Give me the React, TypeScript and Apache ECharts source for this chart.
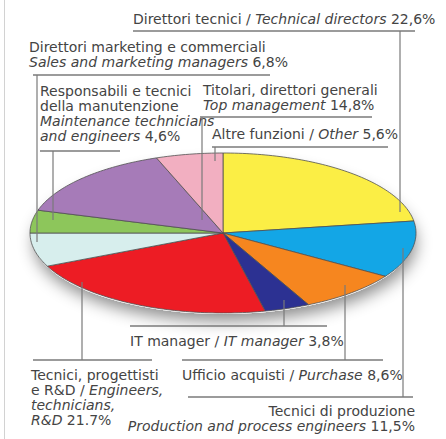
import React, { useEffect, useRef } from 'react';
import * as echarts from 'echarts';

const categories = [
  'Direttori tecnici / Technical directors',
  'Tecnici di produzione / Production and process engineers',
  'Ufficio acquisti / Purchase',
  'IT manager / IT manager',
  'Tecnici, progettisti e R&D / Engineers, technicians, R&D',
  'Direttori marketing e commerciali / Sales and marketing managers',
  'Responsabili e tecnici della manutenzione / Maintenance technicians and engineers',
  'Titolari, direttori generali / Top management',
  'Altre funzioni / Other',
];
const shares = [22.6, 11.5, 8.6, 3.8, 21.7, 6.8, 4.6, 14.8, 5.6];
const decimalMarks = [',', ',', ',', ',', '.', ',', ',', ',', ','];
const sliceColors = ['#fbee45', '#13a6e6', '#f6861f', '#2c3192', '#ed1c24', '#d7eeed', '#8dc65b', '#a67bb8', '#f2afc1'];
// label templates: {n|...} = Italian (upright), {i|...} = English (italic), %v = share
const labelTexts = [
  '{n|Direttori tecnici / }{i|Technical directors}{n| %v}',
  '{n|Tecnici di produzione}\n{i|Production and process engineers}{n| %v}',
  '{n|Ufficio acquisti / }{i|Purchase}{n| %v}',
  '{n|IT manager / }{i|IT manager}{n| %v}',
  '{n|Tecnici, progettisti}\n{n|e R&D / }{i|Engineers,}\n{i|technicians,}\n{i|R&D}{n| %v}',
  '{n|Direttori marketing e commerciali}\n{i|Sales and marketing managers}{n| %v}',
  '{n|Responsabili e tecnici}\n{n|della manutenzione}\n{i|Maintenance technicians}\n{i|and engineers}{n| %v}',
  '{n|Titolari, direttori generali}\n{i|Top management}{n| %v}',
  '{n|Altre funzioni / }{i|Other}{n| %v}',
];

const CX = 223, CY = 233, RX = 193, RY = 80;
const FONT = '"DejaVu Sans", sans-serif';
const FS = 14;
const LH = 15;
const TXT = '#444444';
const LINE = '#7a7a7a';

// layout of each label: first line centre, underline and leader line
const labelLayout = [
  { x: 133, y: 19, align: 'left', under: [[133, 31], [415, 31]], leader: [[400, 31], [400, 212]] },
  { x: 415, y: 411, align: 'right', under: [[188, 397], [413, 397]], leader: [[403, 248], [403, 397]] },
  { x: 182, y: 375, align: 'left', under: [[182, 360], [383, 360]], leader: [[345, 285], [345, 360]] },
  { x: 130, y: 341, align: 'left', under: [[130, 326], [327, 326]], leader: [[284, 300], [284, 326]] },
  { x: 31, y: 375, align: 'left', under: [[33, 360], [152, 360]], leader: [[82, 282], [82, 360]] },
  { x: 29, y: 47, align: 'left', under: [[33, 75], [270, 75]], leader: [[37, 75], [37, 242]] },
  { x: 40, y: 91, align: 'left', under: [[40, 151], [120, 151]], leader: [[53, 151], [53, 220]] },
  { x: 203, y: 90, align: 'left', under: [[200, 117], [372, 117]], leader: [[202, 117], [202, 220]] },
  { x: 212, y: 134, align: 'left', under: [[212, 147], [388, 147]], leader: [[215, 147], [215, 161]] },
];

export default function App() {
  const ref = useRef<HTMLDivElement>(null);
  useEffect(() => {
    if (!ref.current) return;
    const chart = echarts.init(ref.current, null, { renderer: 'svg' });
    const total = shares.reduce((a, b) => a + b, 0);
    const rich = {
      n: { fontFamily: FONT, fontSize: FS, fill: TXT },
      i: { fontFamily: FONT, fontSize: FS, fill: TXT, fontStyle: 'italic' },
    } as any;
    const graphics: any[] = [
      { type: 'line', shape: { x1: 4.5, y1: 0, x2: 4.5, y2: 439 }, style: { stroke: '#d2d2d2', lineWidth: 1 }, z: 1 },
      {
        type: 'ellipse', shape: { cx: CX, cy: CY + 3, rx: RX - 2, ry: RY - 2 },
        style: { fill: '#ffffff', shadowBlur: 16, shadowColor: 'rgba(0,0,0,0.45)', shadowOffsetY: 7, shadowOffsetX: 2 }, z: 0,
      },
    ];
    labelLayout.forEach((l, i) => {
      const val = shares[i].toFixed(1).replace('.', decimalMarks[i]) + '%';
      const lines = labelTexts[i].replace('%v', val).split('\n');
      lines.forEach((line, k) => {
        graphics.push({
          type: 'text', x: l.x, y: l.y + k * LH, z: 10,
          style: {
            text: line, rich,
            fontFamily: FONT, fontSize: FS, fill: TXT,
            align: l.align, verticalAlign: 'middle',
          },
        });
      });
      graphics.push({ type: 'polyline', z: 10, shape: { points: l.under }, style: { stroke: LINE, lineWidth: 1.4, fill: null } });
      graphics.push({ type: 'polyline', z: 10, shape: { points: l.leader }, style: { stroke: LINE, lineWidth: 1.2, fill: null } });
    });
    chart.setOption({
      animation: false,
      backgroundColor: '#ffffff',
      graphic: { elements: graphics },
      series: [
        {
          type: 'custom',
          coordinateSystem: 'none',
          z: 5,
          data: shares.map((v, i) => ({ value: v, name: categories[i] })),
          renderItem: (params: any, api: any) => {
            const i = params.dataIndex;
            let before = 0;
            for (let k = 0; k < i; k++) before += shares[k];
            const a0 = (before / total) * Math.PI * 2;
            const a1 = ((before + api.value(0)) / total) * Math.PI * 2;
            const pts: number[][] = [[CX, CY]];
            const n = Math.max(2, Math.ceil((a1 - a0) / 0.02));
            for (let j = 0; j <= n; j++) {
              const a = a0 + ((a1 - a0) * j) / n;
              pts.push([CX + RX * Math.sin(a), CY - RY * Math.cos(a)]);
            }
            return {
              type: 'polygon',
              shape: { points: pts },
              style: { fill: sliceColors[i], stroke: '#505050', lineWidth: 0.8 },
            };
          },
        },
      ],
    });
    return () => chart.dispose();
  }, []);
  return <div ref={ref} style={{ position: 'fixed', left: 0, top: 0, width: 446, height: 439 }} />;
}
